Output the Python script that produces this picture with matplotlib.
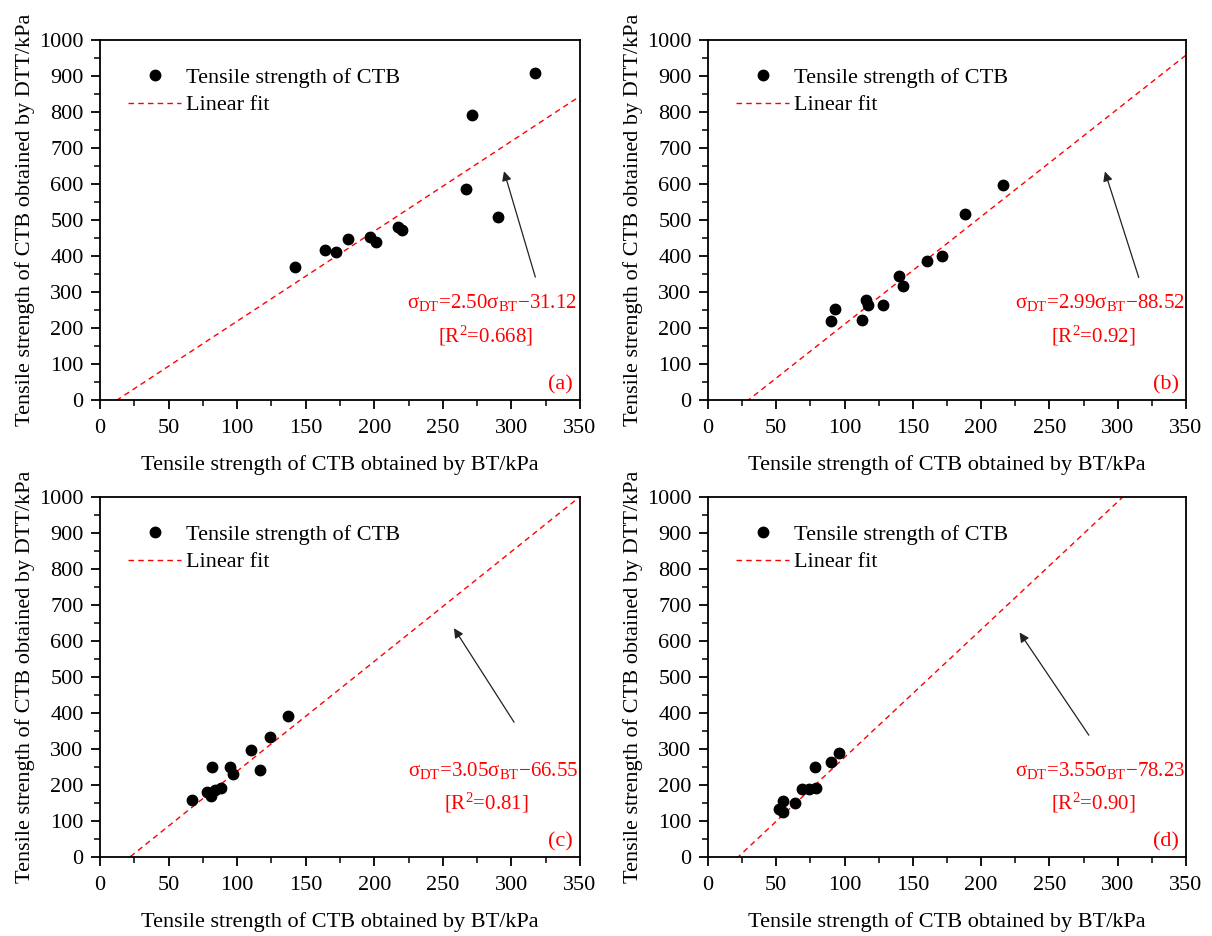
import numpy as np
import matplotlib
matplotlib.use("Agg")
import matplotlib.pyplot as plt
from matplotlib.ticker import MultipleLocator

plt.rcParams["font.family"] = ["Liberation Serif", "DejaVu Serif"]
plt.rcParams["mathtext.fontset"] = "custom"
plt.rcParams["mathtext.rm"] = "Liberation Serif"
plt.rcParams["mathtext.it"] = "Liberation Serif:italic"

# Data (BT strength, DTT strength) in kPa
bt_a = [142, 164, 172, 181, 197, 201, 217, 220, 267, 271, 290, 317]
dt_a = [370, 417, 411, 446, 452, 438, 480, 473, 586, 791, 507, 909]

bt_b = [90, 93, 113, 116, 117, 128, 140, 143, 160, 171, 188, 216]
dt_b = [220, 252, 221, 278, 263, 264, 344, 316, 387, 401, 516, 597]

bt_c = [67, 78, 81, 84, 88, 82, 95, 97, 110, 117, 124, 137]
dt_c = [157, 180, 170, 185, 193, 249, 251, 231, 296, 241, 333, 392]

bt_d = [52, 55, 55, 64, 69, 74, 79, 78, 90, 96]
dt_d = [134, 125, 156, 149, 188, 190, 193, 251, 264, 290]

slopes = [2.50, 2.99, 3.05, 3.55]
intercepts = [-31.12, -88.52, -66.55, -78.23]
eq_texts = [r"$\mathrm{σ_{DT}}$=2.50$\mathrm{σ_{BT}}$−31.12",
            r"$\mathrm{σ_{DT}}$=2.99$\mathrm{σ_{BT}}$−88.52",
            r"$\mathrm{σ_{DT}}$=3.05$\mathrm{σ_{BT}}$−66.55",
            r"$\mathrm{σ_{DT}}$=3.55$\mathrm{σ_{BT}}$−78.23"]
r2_texts = ["[R$^{2}$=0.668]", "[R$^{2}$=0.92]", "[R$^{2}$=0.81]", "[R$^{2}$=0.90]"]
panel_tags = ["(a)", "(b)", "(c)", "(d)"]

# arrow tail/head and text anchors (data coords)
arrow_tail = [(318, 334), (316, 333), (303, 368), (280, 332)]
arrow_head = [(294, 643), (290, 642), (257, 642), (227, 630)]
eq_pos = [(286, 272), (287, 272), (287, 240), (287, 240)]
r2_pos = [(281, 178), (282, 178), (282, 150), (282, 150)]

all_bt = [bt_a, bt_b, bt_c, bt_d]
all_dt = [dt_a, dt_b, dt_c, dt_d]

fig = plt.figure(figsize = (12.12, 9.36), dpi = 100)
W, H = 1212.0, 936.0
boxes = [(100, 40, 580, 400), (708, 40, 1186, 400),
         (100, 497, 580, 857), (708, 497, 1186, 857)]

for i in range(4):
    x0, y0, x1, y1 = boxes[i]
    ax = fig.add_axes([x0 / W, 1 - y1 / H, (x1 - x0) / W, (y1 - y0) / H])

    # 1. Points
    ax.plot(all_bt[i], all_dt[i], linestyle = "none", marker = "o", markersize = 7.5,
            color = "black", label = "Tensile strength of CTB", zorder = 3)

    # 2. Fit line
    xs = np.linspace(0, 350, 200)
    ax.plot(xs, slopes[i] * xs + intercepts[i], linestyle = (0, (4, 3)), color = "#ff0000",
            linewidth = 1.0, label = "Linear fit", zorder = 2)

    # 3. Axes
    ax.set_xlim(0, 350)
    ax.set_ylim(0, 1000)
    ax.xaxis.set_major_locator(MultipleLocator(50))
    ax.xaxis.set_minor_locator(MultipleLocator(25))
    ax.yaxis.set_major_locator(MultipleLocator(100))
    ax.yaxis.set_minor_locator(MultipleLocator(50))
    ax.tick_params(which = "major", direction = "out", length = 6.8, width = 1.3, labelsize = 16)
    ax.tick_params(which = "minor", direction = "out", length = 4.2, width = 1.1)
    ax.tick_params(axis = "x", which = "major", pad = 7)
    ax.tick_params(axis = "y", which = "major", pad = 5)
    for sp in ax.spines.values():
        sp.set_linewidth(1.3)
    ax.set_xlabel("Tensile strength of CTB obtained by BT/kPa", fontsize = 16, labelpad = 12)
    ax.set_ylabel("Tensile strength of CTB obtained by DTT/kPa", fontsize = 16, labelpad = 3)

    # 4. Legend
    legend = ax.legend(loc = "upper left", bbox_to_anchor = (0.013, 0.985), frameon = False,
                       fontsize = 16, handlelength = 2.35, handletextpad = 0.25,
                       labelspacing = 0.3, borderaxespad = 0.6)

    # 5. Annotations
    ax.annotate("", xy = arrow_head[i], xytext = arrow_tail[i],
                arrowprops = dict(arrowstyle = "-|>", color = "#222222", lw = 0.9,
                                  mutation_scale = 14, facecolor = "#666666"))
    ax.text(eq_pos[i][0], eq_pos[i][1], eq_texts[i], color = "#ff0000", fontsize = 15,
            ha = "center", va = "center")
    ax.text(r2_pos[i][0], r2_pos[i][1], r2_texts[i], color = "#ff0000", fontsize = 15,
            ha = "center", va = "center")
    ax.text(0.985, 0.015, panel_tags[i], transform = ax.transAxes, color = "#ff0000",
            fontsize = 16, ha = "right", va = "bottom")

plt.savefig("out.png", dpi = 100)
